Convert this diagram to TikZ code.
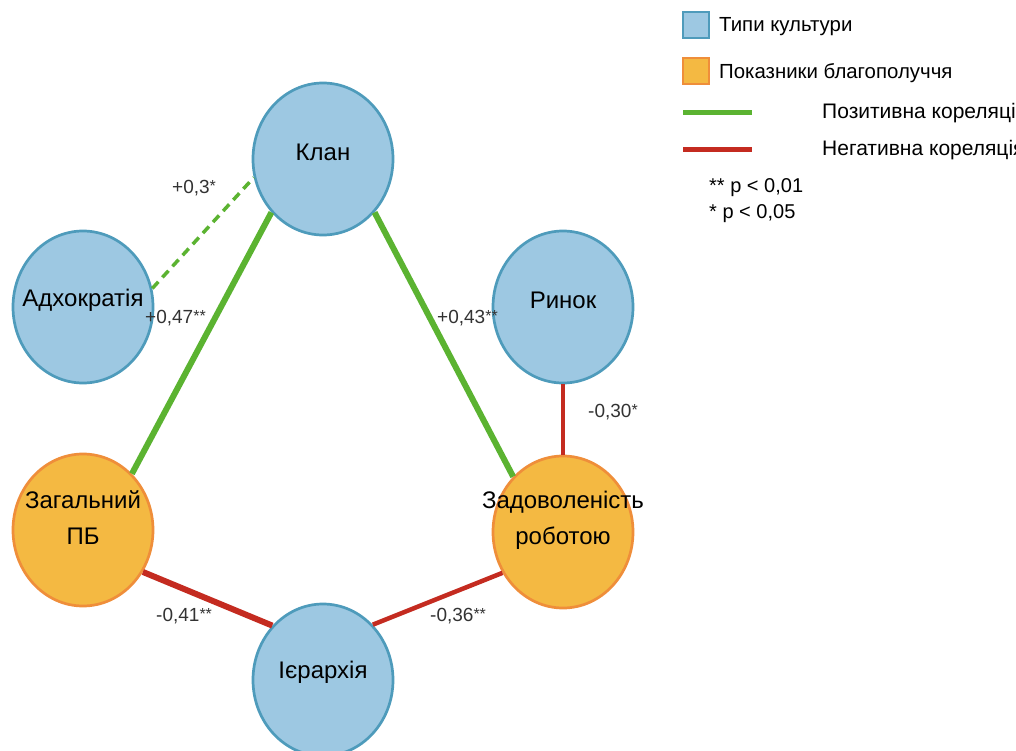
\documentclass[tikz,border=0pt]{standalone}
\usepackage{fontspec}
\setmainfont{Liberation Sans}
\usetikzlibrary{shapes.geometric}
\definecolor{bfill}{HTML}{9DC8E2}
\definecolor{bdraw}{HTML}{4E9BBB}
\definecolor{ofill}{HTML}{F4B942}
\definecolor{odraw}{HTML}{EF8E3A}
\definecolor{gline}{HTML}{5BB331}
\definecolor{rline}{HTML}{C42B20}
\definecolor{lbl}{HTML}{333333}
\tikzset{
  nodefont/.style={font=\fontsize{24}{36}\selectfont},
  culture/.style={ellipse, draw=bdraw, fill=bfill, line width=2.7pt, minimum width=140pt, minimum height=152pt, inner sep=0pt},
  wellbeing/.style={ellipse, draw=odraw, fill=ofill, line width=2.7pt, minimum width=140pt, minimum height=152pt, inner sep=0pt},
  poslink/.style={draw=gline, line width=6pt},
  poslinkthin/.style={draw=gline, line width=3.5pt, dash pattern=on 9pt off 6pt},
  neglink/.style={draw=rline, line width=6pt},
  neglinkthin/.style={draw=rline, line width=4.5pt},
  coef/.style={anchor=west, inner sep=0pt, text=lbl, font=\fontsize{19}{22}\selectfont},
  legtext/.style={anchor=west, inner sep=0pt, font=\fontsize{20.4}{24}\selectfont},
  legbox/.style={line width=2.7pt, minimum width=26pt, minimum height=26pt, inner sep=0pt},
}
\newcommand{\stars}[1]{{\fontsize{16}{18}\selectfont\raisebox{1.5pt}{#1}}}
\begin{document}
\begin{tikzpicture}[x=1pt,y=-1pt]
\clip (0,0) rectangle (1016,751);
\fill[white] (0,0) rectangle (1016,751);

% nodes
\node[culture, label={[nodefont, yshift=7pt]center:Клан}] (klan) at (323,159) {};
\node[culture, label={[nodefont, yshift=7pt]center:Адхократія}] (adh) at (83,307) {};
\node[culture, label={[nodefont, yshift=7pt]center:Ринок}] (rinok) at (563,307) {};
\node[wellbeing, label={[nodefont, align=center, yshift=12pt]center:Загальний\\ПБ}] (zag) at (83,530) {};
\node[wellbeing, label={[nodefont, align=center, yshift=12pt]center:Задоволеність\\роботою}] (zad) at (563,532) {};
\node[culture, label={[nodefont, yshift=8pt]center:Ієрархія}] (ier) at (323,680) {};

% connectors
\draw[poslinkthin] (adh.15) -- (klan.195);
\draw[poslink] (klan.226) -- (zag.49);
\draw[poslink] (klan.314) -- (zad.132);
\draw[neglinkthin] (rinok.south) -- (zad.north);
\draw[neglink] (zag.325) -- (ier.133);
\draw[neglinkthin] (ier.48) -- (zad.214);

% coefficients
\node[coef] (c1) at (172,188) {+0,3\stars{*}};
\node[coef] (c2) at (145,318) {+0,47\stars{**}};
\node[coef] (c3) at (437,318) {+0,43\stars{**}};
\node[coef] (c4) at (588,412) {-0,30\stars{*}};
\node[coef] (c5) at (156,616) {-0,41\stars{**}};
\node[coef] (c6) at (430,616) {-0,36\stars{**}};

% legend
\node[legbox, draw=bdraw, fill=bfill] (lb1) at (696,25) {};
\node[legtext] (lt1) at (719,27) {Типи культури};
\node[legbox, draw=odraw, fill=ofill] (lb2) at (696,71) {};
\node[legtext] (lt2) at (719,73) {Показники благополуччя};
\coordinate (lg1a) at (683,113);
\coordinate (lg1b) at (752,113);
\draw[draw=gline, line width=5pt] (lg1a) -- (lg1b);
\node[legtext, font=\fontsize{21}{24}\selectfont] (lt3) at (822,113) {Позитивна кореляція};
\coordinate (lg2a) at (683,150);
\coordinate (lg2b) at (752,150);
\draw[draw=rline, line width=5pt] (lg2a) -- (lg2b);
\node[legtext, font=\fontsize{21}{24}\selectfont] (lt4) at (822,150) {Негативна кореляція};
\node[legtext, font=\fontsize{20}{22}\selectfont] (lt5) at (709,188) {** p < 0,01};
\node[legtext, font=\fontsize{20}{22}\selectfont] (lt6) at (709,214) {* p < 0,05};
\end{tikzpicture}
\end{document}
